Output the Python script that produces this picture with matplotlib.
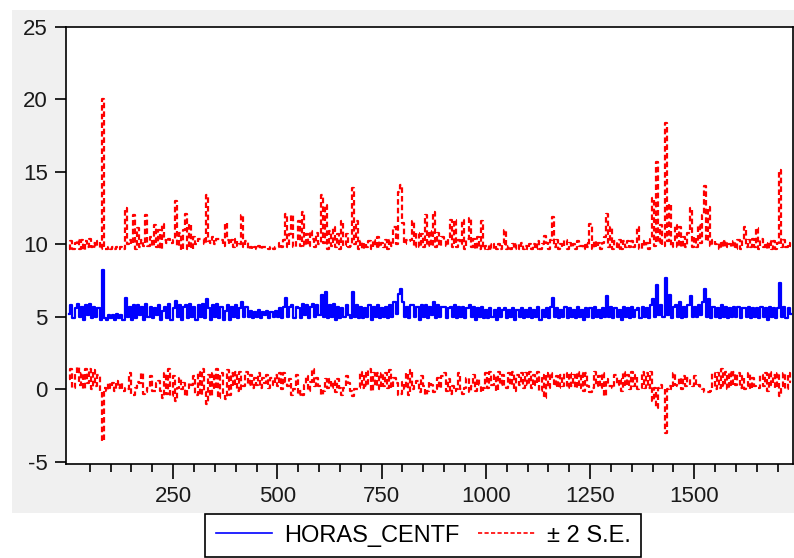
import numpy as np
import matplotlib.pyplot as plt
from matplotlib.patches import Rectangle

plt.rcParams['font.family'] = ['Liberation Sans', 'DejaVu Sans']
plt.rcParams['axes.unicode_minus'] = False

# forecast HORAS_CENTF, one reading every 5 observations (in tenths)
horas_centf = [
    52, 58, 49, 56, 59, 50, 57, 48, 58, 51, 59, 49, 57, 50, 56, 48, 82, 49, 48, 51,
    49, 51, 48, 52, 49, 51, 48, 63, 50, 57, 48, 58, 49, 58, 51, 57, 48, 59, 50, 57,
    49, 56, 51, 58, 48, 54, 57, 49, 59, 48, 56, 61, 50, 58, 48, 57, 58, 49, 59, 50,
    57, 48, 58, 50, 59, 49, 62, 56, 48, 58, 50, 59, 49, 57, 48, 54, 58, 48, 57, 50,
    58, 49, 56, 60, 50, 57, 50, 54, 49, 53, 50, 55, 49, 53, 51, 54, 49, 53, 50, 54,
    50, 56, 49, 57, 63, 50, 57, 58, 49, 57, 56, 49, 59, 51, 58, 49, 57, 59, 50, 58,
    51, 65, 50, 67, 49, 58, 50, 59, 48, 57, 49, 56, 50, 58, 51, 49, 67, 50, 58, 49,
    57, 49, 56, 50, 58, 48, 57, 50, 58, 49, 56, 50, 57, 49, 58, 50, 60, 52, 66, 69,
    60, 50, 57, 49, 58, 58, 50, 57, 48, 58, 50, 58, 49, 57, 51, 60, 49, 58, 50, 57,
    57, 49, 56, 57, 50, 58, 49, 57, 50, 57, 49, 56, 58, 50, 57, 48, 56, 50, 57, 49,
    55, 49, 56, 50, 55, 48, 56, 50, 55, 56, 49, 55, 50, 56, 48, 55, 50, 56, 49, 55,
    50, 56, 49, 55, 50, 57, 48, 55, 50, 56, 49, 57, 63, 50, 56, 49, 55, 50, 57, 49,
    56, 50, 55, 49, 57, 50, 55, 48, 56, 50, 56, 49, 57, 50, 55, 49, 56, 50, 64, 50,
    57, 49, 56, 50, 55, 48, 57, 50, 56, 49, 57, 50, 55, 56, 49, 57, 50, 56, 49, 58,
    62, 50, 72, 51, 58, 50, 77, 51, 65, 49, 57, 58, 50, 60, 49, 57, 50, 58, 64, 50,
    57, 50, 58, 51, 60, 69, 50, 62, 49, 57, 50, 56, 49, 58, 50, 57, 49, 56, 50, 57,
    50, 57, 49, 56, 56, 50, 57, 49, 56, 50, 56, 49, 57, 50, 56, 48, 57, 50, 56, 49,
    56, 73, 50, 57, 49, 56, 52,
]

# two standard errors at the same observations (in tenths)
two_se = [
    45, 44, 48, 45, 44, 47, 46, 48, 44, 47, 45, 49, 44, 48, 46, 49, 118, 48, 49, 47,
    48, 47, 49, 46, 48, 47, 49, 62, 50, 46, 52, 62, 48, 53, 47, 46, 51, 61, 49, 48,
    50, 57, 47, 52, 49, 60, 46, 52, 45, 53, 47, 69, 49, 50, 48, 53, 63, 48, 55, 47,
    48, 52, 46, 54, 45, 51, 72, 46, 53, 47, 50, 45, 55, 46, 51, 61, 45, 52, 46, 48,
    46, 50, 44, 60, 48, 45, 47, 44, 48, 45, 47, 44, 48, 45, 47, 44, 48, 45, 47, 44,
    48, 45, 49, 46, 58, 48, 50, 62, 49, 47, 60, 50, 63, 48, 49, 50, 52, 45, 48, 50,
    49, 69, 51, 60, 48, 51, 49, 53, 50, 50, 48, 60, 49, 49, 47, 50, 72, 50, 58, 48,
    45, 48, 45, 48, 44, 49, 46, 48, 47, 49, 45, 48, 46, 48, 45, 49, 52, 48, 70, 72,
    55, 50, 46, 53, 45, 58, 48, 51, 50, 49, 48, 62, 50, 52, 48, 62, 49, 50, 49, 48,
    46, 50, 49, 60, 48, 59, 49, 46, 50, 60, 48, 48, 60, 48, 47, 49, 49, 47, 59, 48,
    44, 48, 44, 47, 45, 49, 44, 47, 45, 54, 48, 44, 47, 44, 49, 45, 47, 45, 48, 44,
    47, 44, 48, 45, 47, 45, 49, 45, 56, 45, 48, 46, 56, 48, 47, 48, 45, 48, 46, 48,
    45, 48, 45, 48, 45, 49, 44, 49, 45, 48, 58, 48, 45, 48, 46, 48, 45, 55, 57, 48,
    55, 48, 46, 47, 48, 49, 45, 48, 46, 49, 45, 48, 45, 56, 48, 45, 49, 45, 48, 46,
    70, 49, 85, 50, 55, 49, 107, 51, 63, 49, 46, 55, 48, 52, 49, 48, 48, 50, 61, 48,
    48, 48, 55, 50, 60, 71, 52, 64, 50, 46, 50, 45, 48, 44, 48, 45, 49, 44, 48, 45,
    47, 46, 48, 47, 56, 48, 46, 49, 48, 48, 55, 48, 47, 48, 45, 49, 45, 47, 46, 48,
    45, 78, 48, 46, 49, 45, 47,
]

step = 5
f = np.array(horas_centf) / 10
se2 = np.array(two_se) / 10
obs = 1 + step * np.arange(len(f))

fig = plt.figure(figsize=(7.94, 5.58), dpi=100, facecolor='white')
# grey panel behind the graph (EViews frame)
fig.patches.append(Rectangle((0.0151, 0.0806), 0.985, 0.9014,
                             transform=fig.transFigure, facecolor='#f0f0f0',
                             edgecolor='none', zorder=-10))

ax = fig.add_axes([0.0831, 0.1685, 0.9153, 0.7831])
ax.set_facecolor('white')

dash = (0, (2.5, 1.4))
l1, = ax.plot(obs, f, color='#0000ff', lw=1.6, drawstyle='steps-mid',
              label='HORAS_CENTF')
l2, = ax.plot(obs, f + se2, color='#ff0000', lw=1.6, ls=dash,
              drawstyle='steps-mid', label='\u00b1 2 S.E.')
ax.plot(obs, f - se2, color='#ff0000', lw=1.6, ls=dash, drawstyle='steps-mid')

ax.set_xlim(-7, 1736)
ax.set_ylim(-5.16, 25)
ax.set_yticks([-5, 0, 5, 10, 15, 20, 25])
ax.set_xticks([250, 500, 750, 1000, 1250, 1500])
ax.set_xticks(np.arange(50, 1701, 50), minor=True)

ax.tick_params(axis='both', which='major', labelsize=16, color='black',
               labelcolor='#1a1a1a', direction='out', width=1.2)
ax.tick_params(axis='y', length=8, pad=5)
ax.tick_params(axis='x', which='major', length=11, pad=5)
ax.tick_params(axis='x', which='minor', length=5.5, width=1.2)

for sp in ax.spines.values():
    sp.set_color('black')
    sp.set_linewidth(1.2)

leg = fig.legend(handles=[l1, l2], loc='upper center', ncol=2,
                 bbox_to_anchor=(0.533, 0.0789), borderaxespad=0, fontsize=17,
                 frameon=True, fancybox=False, framealpha=1,
                 edgecolor='black', handlelength=2.4, handletextpad=0.5,
                 columnspacing=0.8, borderpad=0.45)
leg.get_frame().set_linewidth(1.2)
for h in leg.get_lines():
    h.set_linewidth(1.2)

fig.savefig('out.png', dpi=100, facecolor='white')
